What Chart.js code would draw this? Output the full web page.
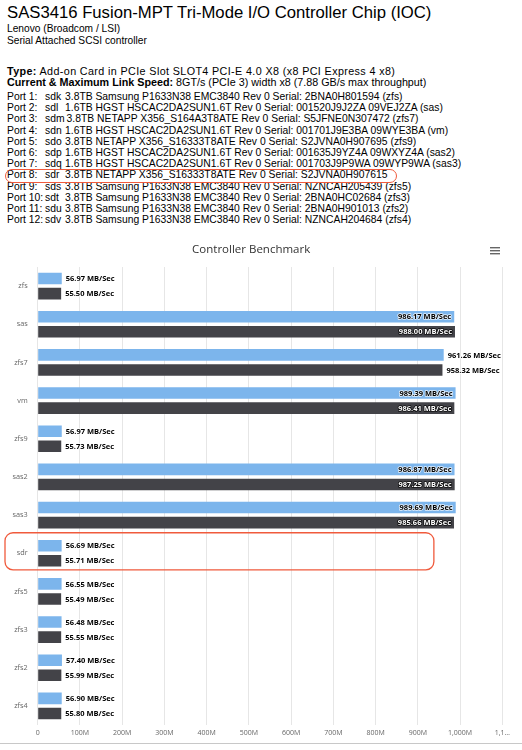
<!DOCTYPE html>
<html>
<head>
<meta charset="utf-8">
<script src="https://cdn.jsdelivr.net/npm/chart.js@4.4.0/dist/chart.umd.min.js"></script>
<style>
body { margin: 0; background: #fff; font-family: "Liberation Sans", Arial, sans-serif; color: #000; }
#page { position: relative; width: 522px; height: 750px; overflow: hidden; }
.blk { position: absolute; left: 7px; white-space: nowrap; }
#hd { top: 3px; font-size: 16.7px; line-height: 20px; }
#vendor { top: 23px; font-size: 10.2px; line-height: 11.5px; }
#link { top: 66px; font-size: 10.75px; line-height: 10.6px; }
#link .typ { letter-spacing: 0.38px; }
#ports { top: 91px; font-size: 10.35px; line-height: 11.2px; }
.pn { display: inline-block; width: 38px; }
.dev { display: inline-block; min-width: 18px; padding-right: 2px; }
.mark { position: relative; }
.mark::after { content: ""; position: absolute; left: -2px; top: -0.8px; width: 392px; height: 14.4px; box-sizing: border-box; border: 1.3px solid #f05a3c; border-radius: 7px; }
#chartBox { position: absolute; left: 0; top: 235px; width: 522px; height: 510px; }
#rule { position: absolute; left: 0; top: 743px; width: 522px; height: 1px; background: #c8c8c8; }
</style>
</head>
<body>
<div id="page">
  <div class="blk" id="hd">SAS3416 Fusion-MPT Tri-Mode I/O Controller Chip (IOC)</div>
  <div class="blk" id="vendor">
    <div>Lenovo (Broadcom / LSI)</div>
    <div>Serial Attached SCSI controller</div>
  </div>
  <div class="blk" id="link">
    <div class="typ"><b>Type:</b> Add-on Card in PCIe Slot SLOT4 PCI-E 4.0 X8 (x8 PCI Express 4 x8)</div>
    <div><b>Current &amp; Maximum Link Speed:</b> 8GT/s (PCIe 3) width x8 (7.88 GB/s max throughput)</div>
  </div>
  <div class="blk" id="ports">
    <div><span class="pn">Port 1:</span><span class="dev">sdk</span>3.8TB Samsung P1633N38 EMC3840 Rev 0 Serial: 2BNA0H801594 (zfs)</div>
    <div><span class="pn">Port 2:</span><span class="dev">sdl</span>1.6TB HGST HSCAC2DA2SUN1.6T Rev 0 Serial: 001520J9J2ZA 09VEJ2ZA (sas)</div>
    <div><span class="pn">Port 3:</span><span class="dev">sdm</span>3.8TB NETAPP X356_S164A3T8ATE Rev 0 Serial: S5JFNE0N307472 (zfs7)</div>
    <div><span class="pn">Port 4:</span><span class="dev">sdn</span>1.6TB HGST HSCAC2DA2SUN1.6T Rev 0 Serial: 001701J9E3BA 09WYE3BA (vm)</div>
    <div><span class="pn">Port 5:</span><span class="dev">sdo</span>3.8TB NETAPP X356_S16333T8ATE Rev 0 Serial: S2JVNA0H907695 (zfs9)</div>
    <div><span class="pn">Port 6:</span><span class="dev">sdp</span>1.6TB HGST HSCAC2DA2SUN1.6T Rev 0 Serial: 001635J9YZ4A 09WXYZ4A (sas2)</div>
    <div><span class="pn">Port 7:</span><span class="dev">sdq</span>1.6TB HGST HSCAC2DA2SUN1.6T Rev 0 Serial: 001703J9P9WA 09WYP9WA (sas3)</div>
    <div class="mark"><span class="pn">Port 8:</span><span class="dev">sdr</span>3.8TB NETAPP X356_S16333T8ATE Rev 0 Serial: S2JVNA0H907615</div>
    <div><span class="pn">Port 9:</span><span class="dev">sds</span>3.8TB Samsung P1633N38 EMC3840 Rev 0 Serial: NZNCAH205439 (zfs5)</div>
    <div><span class="pn">Port 10:</span><span class="dev">sdt</span>3.8TB Samsung P1633N38 EMC3840 Rev 0 Serial: 2BNA0HC02684 (zfs3)</div>
    <div><span class="pn">Port 11:</span><span class="dev">sdu</span>3.8TB Samsung P1633N38 EMC3840 Rev 0 Serial: 2BNA0H901013 (zfs2)</div>
    <div><span class="pn">Port 12:</span><span class="dev">sdv</span>3.8TB Samsung P1633N38 EMC3840 Rev 0 Serial: NZNCAH204684 (zfs4)</div>
  </div>
  <div id="chartBox"><canvas id="bench" width="522" height="510"></canvas></div>
  <div id="rule"></div>
</div>
<script>
const categories = ['zfs', 'sas', 'zfs7', 'vm', 'zfs9', 'sas2', 'sas3', 'sdr', 'zfs5', 'zfs3', 'zfs2', 'zfs4'];
const readSpeeds = [56.97, 986.17, 961.26, 989.39, 56.97, 986.87, 989.69, 56.69, 56.55, 56.48, 57.40, 56.90];
const writeSpeeds = [55.50, 988.00, 958.32, 986.41, 55.73, 987.25, 985.66, 55.71, 55.49, 55.55, 55.99, 55.80];
const xTickLabels = ['0', '100M', '200M', '300M', '400M', '500M', '600M', '700M', '800M', '900M', '1,000M', '1,1…'];
const highlighted = 'sdr';

// value labels: outside the bar if they fit, otherwise inside at the end
const barLabels = {
    id: 'barLabels',
    afterDatasetsDraw(chart) {
        const ctx = chart.ctx;
        const area = chart.chartArea;
        ctx.save();
        ctx.font = 'bold 7.5px "Open Sans"';
        ctx.textBaseline = 'middle';
        ctx.lineJoin = 'round';
        chart.data.datasets.forEach((ds, di) => {
            chart.getDatasetMeta(di).data.forEach((bar, i) => {
                const txt = ds.data[i].toFixed(2) + ' MB/Sec';
                const w = ctx.measureText(txt).width;
                let x, fg, outline;
                if (bar.x + 4 + w <= area.right) {
                    x = bar.x + 4;
                    ctx.textAlign = 'left';
                    fg = '#000';
                    outline = '#fff';
                } else {
                    x = bar.x - 3;
                    ctx.textAlign = 'right';
                    fg = di === 0 ? '#000' : '#fff';
                    outline = di === 0 ? 'rgba(255,255,255,0.8)' : 'rgba(0,0,0,0.8)';
                }
                ctx.lineWidth = 1.6;
                ctx.strokeStyle = outline;
                ctx.strokeText(txt, x, bar.y + 0.5);
                ctx.fillStyle = fg;
                ctx.fillText(txt, x, bar.y + 0.5);
            });
        });
        ctx.restore();
    }
};

// red annotation round the highlighted category + menu icon
const extras = {
    id: 'extras',
    afterDraw(chart) {
        const ctx = chart.ctx;
        const ys = chart.scales.y;
        const xs = chart.scales.x;
        const idx = categories.indexOf(highlighted);
        const c = ys.getPixelForValue(idx);
        const half = (ys.getPixelForValue(1) - ys.getPixelForValue(0)) / 2;
        const left = 5, right = xs.getPixelForValue(938);
        const top = c - half - 1.4, bottom = c + half - 2.5;
        const r = 8;
        ctx.save();
        ctx.strokeStyle = '#f05a3c';
        ctx.lineWidth = 1.3;
        ctx.beginPath();
        ctx.moveTo(left + r, top);
        ctx.arcTo(right, top, right, bottom, r);
        ctx.arcTo(right, bottom, left, bottom, r);
        ctx.arcTo(left, bottom, left, top, r);
        ctx.arcTo(left, top, right, top, r);
        ctx.closePath();
        ctx.stroke();

        ctx.strokeStyle = '#666';
        ctx.lineWidth = 1.4;
        [12.7, 15.7, 18.7].forEach(y => {
            ctx.beginPath();
            ctx.moveTo(490, y);
            ctx.lineTo(500, y);
            ctx.stroke();
        });
        ctx.restore();
    }
};

function createChart() {
    const ctx = document.getElementById('bench').getContext('2d');
    new Chart(ctx, {
        type: 'bar',
        data: {
            labels: categories,
            datasets: [{
                label: 'Read',
                data: readSpeeds,
                backgroundColor: '#7cb5ec',
                categoryPercentage: 0.79,
                barPercentage: 0.77
            }, {
                label: 'Write',
                data: writeSpeeds,
                backgroundColor: '#434348',
                categoryPercentage: 0.79,
                barPercentage: 0.77
            }]
        },
        options: {
            indexAxis: 'y',
            responsive: false,
            animation: false,
            devicePixelRatio: 1,
            layout: { padding: { left: 0, right: 19.7, top: 0, bottom: 0 } },
            plugins: {
                legend: { display: false },
                tooltip: { enabled: false },
                title: {
                    display: true,
                    text: 'Controller Benchmark',
                    color: '#333',
                    font: { family: 'Open Sans', size: 11.5, weight: 'normal' },
                    padding: { top: 8, bottom: 10.2 }
                }
            },
            scales: {
                x: {
                    min: 0,
                    max: 1100,
                    ticks: {
                        stepSize: 100,
                        autoSkip: false,
                        maxRotation: 0,
                        padding: 4,
                        color: '#666',
                        font: { family: 'Open Sans', size: 7 },
                        callback: (v, i) => xTickLabels[i]
                    },
                    grid: { color: '#e6e6e6', drawTicks: false },
                    border: { display: false },
                    afterFit: s => { s.height = 20; }
                },
                y: {
                    ticks: {
                        padding: 10,
                        color: '#666',
                        font: { family: 'Open Sans', size: 7.3 }
                    },
                    grid: { display: false, drawTicks: false },
                    border: { display: false },
                    afterFit: s => { s.width = 37.7; }
                }
            }
        },
        plugins: [barLabels, extras]
    });
}

document.addEventListener('DOMContentLoaded', createChart);
</script>
</body>
</html>
